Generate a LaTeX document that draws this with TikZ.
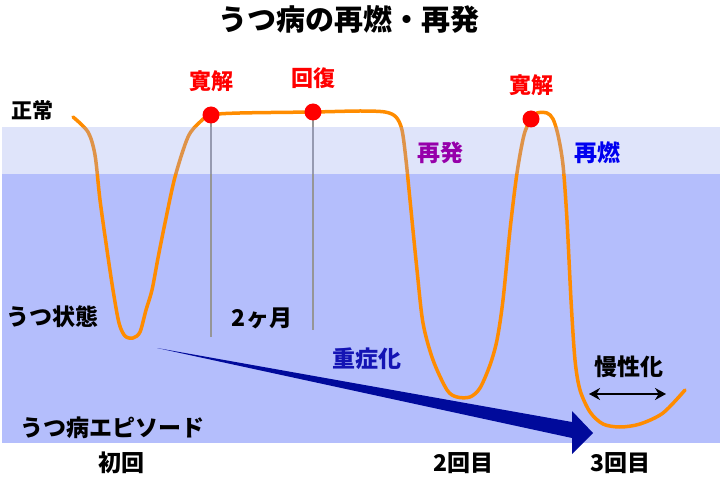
\documentclass[tikz,border=0pt]{standalone}
\usepackage{fontspec}
\setmainfont{Noto Sans CJK JP}
\usetikzlibrary{arrows.meta}
\newlength{\DotSize}
\newlength{\LabelOffset}
\setlength{\DotSize}{17pt}
\setlength{\LabelOffset}{34pt}
\definecolor{bandlight}{RGB}{150,165,240}
\definecolor{banddark}{RGB}{180,190,252}
\definecolor{curveorange}{RGB}{255,140,0}
\definecolor{navyarrow}{RGB}{0,10,155}
\definecolor{relapsepurple}{RGB}{150,0,170}
\definecolor{recurblue}{RGB}{0,0,240}
\definecolor{severeblue}{RGB}{20,20,180}
\tikzset{
  title text/.style={font=\bfseries\fontsize{29}{29}\selectfont, inner sep=0pt},
  label text/.style={font=\bfseries\fontsize{23}{23}\selectfont, inner sep=0pt},
  event text/.style={font=\bfseries\fontsize{22}{22}\selectfont, inner sep=0pt, text=red},
  state dot/.style={circle, fill=red, minimum size=\DotSize, inner sep=0pt},
  time line/.style={draw={rgb,255:red,150;green,150;blue,150}, line width=2.5pt},
  mood curve/.style={draw=curveorange, line width=3.5pt, line cap=round, line join=round},
  span arrow/.style={{Stealth[length=11pt,width=12pt]}-{Stealth[length=11pt,width=12pt]}, line width=2.5pt}
}

\begin{document}
\begin{tikzpicture}[x=1pt, y=-1pt]
  \useasboundingbox (0,0) rectangle (720,478);
  \fill[banddark] (2,174) rectangle (720,443);

  \coordinate (kan1pt) at (211,115);
  \coordinate (kaifukupt) at (313,112);
  \coordinate (kan2pt) at (531,119);
  \coordinate (kan1foot) at (211,337);
  \coordinate (kaifukufoot) at (313,330);
  \coordinate (chronL) at (589,394);
  \coordinate (chronR) at (666,394);

  \draw[time line] (kan1pt) -- (kan1foot);
  \draw[time line] (kaifukupt) -- (kaifukufoot);

  \fill[navyarrow] (157,348) -- (572,422) -- (572,411) -- (593,433)
    -- (572,454) -- (572,438) -- cycle;

  \draw[mood curve] plot[smooth, tension=0.5] coordinates {
    (73,117) (88,132) (95,155) (100,200) (107,250) (113,290) (119,323)
    (125,336) (133,338) (140,332) (146,310) (152,290) (158,258) (165,223)
    (175,177) (188,137) (200,122) (211,115) (240,113) (313,112) (360,111)
    (385,112) (396,117) (402,130) (406,160) (410,200) (417,270) (423,323)
    (433,360) (447,390) (457,397) (470,397) (480,388) (490,365) (497,340)
    (503,300) (510,230) (517,173) (524,135) (531,119) (537,113) (547,113)
    (553,119) (558,135) (563,165) (567,220) (571,300) (575,360) (580,390)
    (590,412) (603,424) (620,427) (640,424) (663,413) (685,390)};

  \fill[bandlight, opacity=0.3] (2,127) rectangle (720,174);

  \node[state dot] (kan1) at (kan1pt) {};
  \node[state dot] (kaifuku) at (kaifukupt) {};
  \node[state dot] (kan2) at (kan2pt) {};

  \node[event text] (kan1lab) at ([yshift=\LabelOffset]kan1.center) {寛解};
  \node[event text] (kaifukulab) at ([yshift=\LabelOffset]kaifuku.center) {回復};
  \node[event text] (kan2lab) at ([yshift=\LabelOffset]kan2.center) {寛解};

  \draw[span arrow] (chronL) -- (chronR);

  \node[title text] (title) at (349,19) {うつ病の再燃・再発};
  \node[label text, font=\bfseries\fontsize{21}{21}\selectfont] (seijo) at (32,111) {正常};
  \node[label text] (utsu) at (52,317) {うつ状態};
  \node[label text] (episode) at (112,428) {うつ病エピソード};
  \node[label text] (first) at (121,463) {初回};
  \node[label text] (second) at (463,463) {2回目};
  \node[label text] (third) at (620,463) {3回目};
  \node[label text] (months) at (262,318) {2ヶ月};
  \node[label text, text=severeblue] (severe) at (367,359) {重症化};
  \node[label text] (chronic) at (629,367) {慢性化};
  \node[label text, text=relapsepurple] (relapse) at (440,153) {再発};
  \node[label text, text=recurblue] (recur) at (597,153) {再燃};
\end{tikzpicture}
\end{document}
